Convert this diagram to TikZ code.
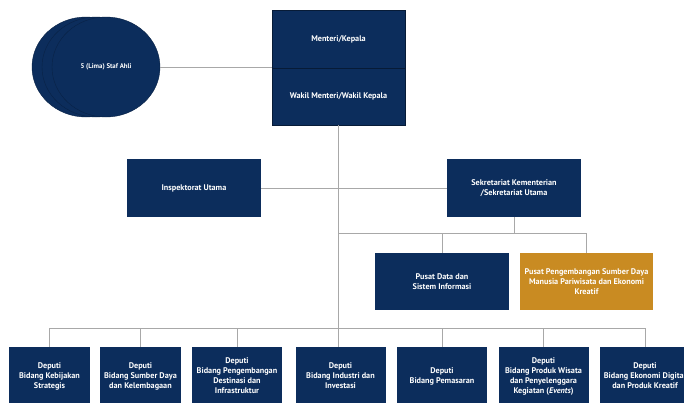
\documentclass[tikz,border=0pt]{standalone}
\usepackage{fontspec}
\setmainfont{PT Sans}
\usetikzlibrary{shapes.geometric}
\definecolor{navy}{HTML}{0C2D5C}
\definecolor{gold}{HTML}{C98B22}
\definecolor{wire}{HTML}{A8A8A8}

\begin{document}
\begin{tikzpicture}[x=1pt,y=-1pt,
    unit/.style ={rectangle, fill=navy, text=white, inner sep=1pt, align=center,
      font=\fontsize{8.2}{10}\selectfont\bfseries},
    wide/.style ={unit, minimum width=134, minimum height=58},
    deputi/.style ={unit, minimum width=90, minimum height=58},
    staf/.style ={ellipse, fill=navy, draw=navy!75!black, inner sep=0pt,
      minimum width=108, minimum height=100},
    wire/.style ={draw=wire, line width=0.9}]
   \useasboundingbox (0,0) rectangle (684,402);
   \clip (0,0) rectangle (684,402);
   \fill[white] (0,0) rectangle (684,402);
   % staf ahli
   \node[staf] (E3) at (86,67)  {};
   \node[staf] (E2) at (96,67)  {};
   \node[staf, text=white, font=\fontsize{6.8}{8}\selectfont\bfseries] (E1) at (106,67) {5 (Lima) Staf Ahli};
   % pimpinan
   \node[wide, minimum width=133, draw=navy!60!black] (M) at (338.5,39)  {Menteri/Kepala};
   \node[wide, minimum width=133, minimum height=57, draw=navy!60!black] (W) at (338.5,96.5)  {Wakil Menteri/Wakil Kepala};
   \node[wide] (I) at (194,188)  {Inspektorat Utama};
   \node[wide] (S) at (514,188)  {Sekretariat Kementerian\\/Sekretariat Utama};
   \node[wide, minimum height=57] (P) at (442,281.5)  {Pusat Data dan\\Sistem Informasi};
   \node[wide, minimum width=133, minimum height=57, fill=gold] (O) at (586.5,281.5)  {Pusat Pengembangan Sumber Daya\\Manusia Pariwisata dan Ekonomi\\Kreatif};
   % deputi
   \node[deputi, minimum width=81] (D1) at (49.5,376)  {Deputi\\Bidang Kebijakan\\Strategis};
   \node[deputi, minimum width=81] (D2) at (140.5,376)  {Deputi\\Bidang Sumber Daya\\dan Kelembagaan};
   \node[deputi] (D3) at (237,376)  {Deputi\\Bidang Pengembangan\\Destinasi dan\\Infrastruktur};
   \node[deputi] (D4) at (340.5,376)  {Deputi\\Bidang Industri dan\\Investasi};
   \node[deputi] (D5) at (442,376)  {Deputi\\Bidang Pemasaran};
   \node[deputi] (D6) at (543.5,376)  {Deputi\\Bidang Produk Wisata\\dan Penyelenggara\\Kegiatan (\textit{Events})};
   \node[deputi] (D7) at (645,376)  {Deputi\\Bidang Ekonomi Digital\\dan Produk Kreatif};
   \coordinate (T) at (338.5,233);
   \coordinate (B) at (338.5,328);
   % garis
   \draw[wire] (E1.east) to (E1.east -| M.west);
   \draw[wire] (W.south) to (B);
   \draw[wire] (I) to (S);
   \draw[wire] (S.south) to (S.south |- T);
   \draw[wire] (T) to (T -| O.north) to (O.north);
   \draw[wire] (P.north |- T) to (P.north);
   \draw[wire] (D1.north) to (D1.north |- B) to (D7.north |- B) to (D7.north);
   \draw[wire] (D2.north |- B) to (D2.north);
   \draw[wire] (D3.north |- B) to (D3.north);
   \draw[wire] (B) to (B |- D4.north);
   \draw[wire] (D5.north |- B) to (D5.north);
   \draw[wire] (D6.north |- B) to (D6.north);
   \draw[navy!60!black, line width=0.6] (M.south west) to (M.south east);
 \end{tikzpicture}
\end{document}
